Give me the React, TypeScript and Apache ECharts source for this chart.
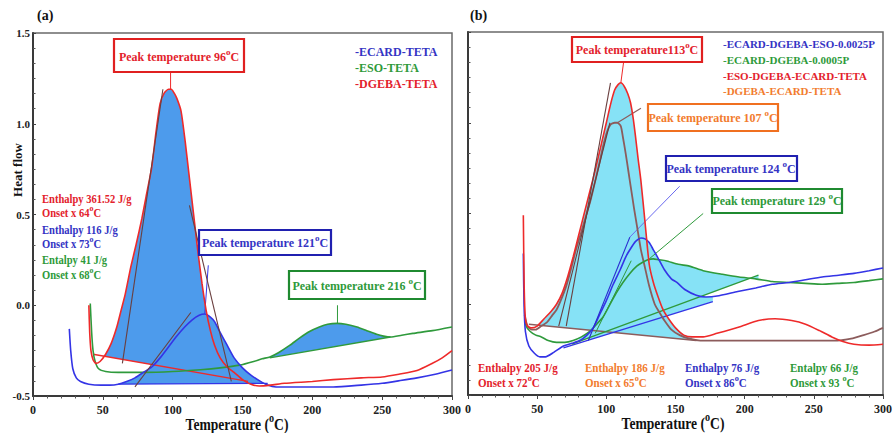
import React, { useEffect, useRef } from "react";
import * as echarts from "echarts";

// ---------- Panel (a) data : [temperature °C, heat flow] ----------
const RED_A: number[][] = [
  [40, 0.0], [40.6, -0.15], [41.5, -0.25], [43, -0.3], [45, -0.32], [48, -0.31], [52, -0.27], [56, -0.21],
  [60, -0.12], [63, -0.03], [66, 0.06], [70, 0.21], [74, 0.34], [78, 0.48], [81, 0.6], [85, 0.76], [88, 0.95],
  [91, 1.11], [94, 1.17], [97, 1.19], [99, 1.19], [101, 1.17], [103, 1.14], [106, 1.07], [109, 0.9], [112, 0.7],
  [115, 0.5], [118, 0.3], [121, 0.12], [124, -0.03], [127, -0.14], [130, -0.22], [134, -0.29], [139, -0.34],
  [144, -0.37], [150, -0.41], [156, -0.435], [162, -0.445], [170, -0.44], [180, -0.43], [200, -0.42],
  [215, -0.41], [235, -0.4], [250, -0.395], [262, -0.38], [275, -0.36], [286, -0.32], [293, -0.29], [300, -0.25],
];
const BLUE_A: number[][] = [
  [26, -0.13], [27, -0.25], [28.5, -0.35], [31, -0.4], [34, -0.42], [40, -0.435], [49, -0.44], [55, -0.44],
  [61, -0.435], [67, -0.42], [73, -0.4], [79, -0.37], [85, -0.34], [91, -0.29], [97, -0.23], [103, -0.17],
  [108.6, -0.12], [114, -0.08], [119, -0.055], [123, -0.048], [127, -0.065], [130, -0.09], [134, -0.15],
  [139, -0.22], [144, -0.29], [150, -0.345], [156, -0.385], [162, -0.415], [168, -0.44], [174, -0.45],
  [190, -0.45], [215, -0.45], [235, -0.44], [250, -0.43], [263, -0.415], [275, -0.4], [288, -0.38], [300, -0.357],
];
const GREEN_A: number[][] = [
  [41, 0.01], [42, -0.15], [43, -0.25], [44.5, -0.31], [47, -0.35], [52, -0.365], [61, -0.37], [80, -0.37],
  [100, -0.365], [120, -0.355], [134, -0.345], [148, -0.33], [158, -0.31], [164, -0.295], [169.6, -0.285],
  [176, -0.26], [184, -0.22], [191, -0.18], [198, -0.145], [205, -0.12], [211, -0.105], [217.6, -0.1],
  [224, -0.105], [232, -0.12], [239, -0.14], [246, -0.16], [251, -0.17], [256, -0.175], [264, -0.165],
  [272, -0.155], [286, -0.14], [300, -0.12],
];
// integration baselines [start, end]
const BASE_RED_A: number[][] = [[43, -0.27], [154, -0.42]];
const BASE_BLUE_A: number[][] = [[61, -0.435], [168, -0.43]];
const BASE_GREEN_A: number[][] = [[169.5, -0.29], [256, -0.175]];
const FILL_RED_A = [50, 152];
const FILL_BLUE_A = [61, 168];
const FILL_GREEN_A = [169.6, 256];
// tangents and peak markers
const TAN_A: number[][][] = [
  [[64, -0.32], [93, 1.19]],
  [[112, 0.55], [142, -0.42]],
  [[73, -0.45], [113, -0.04]],
];
const PEAK_RED_A: number[][] = [[98.5, 1.19], [98.5, 1.285]];
const PEAK_BLUE_A: number[][] = [[123, -0.045], [125.5, 0.22]];
const PEAK_GREEN_A: number[][] = [[218, -0.1], [218, 0.0]];

// ---------- Panel (b) data ----------
const RED_B: number[][] = [
  [40, 0.49], [40.6, 0.1], [41.5, -0.08], [43, -0.12], [46, -0.13], [50, -0.12], [55, -0.08], [60, -0.04],
  [64, 0.0], [68, 0.06], [72, 0.15], [76, 0.26], [80, 0.38], [84, 0.5], [88, 0.62], [92, 0.74], [96, 0.87],
  [100, 1.0], [103, 1.1], [106, 1.18], [108.5, 1.21], [110.5, 1.22], [113, 1.2], [115.5, 1.16], [117.5, 1.11],
  [119.5, 1.02], [121, 0.93], [123, 0.8], [125, 0.68], [128, 0.45], [131, 0.22], [134, 0.12], [137, 0.05],
  [141, -0.03], [145, -0.08], [150, -0.13], [156, -0.17], [162, -0.18], [170, -0.18], [180, -0.16],
  [196, -0.125], [210, -0.09], [222, -0.08], [234, -0.09], [244, -0.11], [254, -0.145], [263, -0.18],
  [271, -0.205], [279, -0.22], [290, -0.225], [300, -0.22],
];
const ORANGE_B: number[][] = [
  [41, -0.06], [43, -0.12], [46, -0.14], [49, -0.14], [53, -0.12], [57, -0.1], [61, -0.06], [64, -0.03],
  [67, 0.02], [71, 0.1], [75, 0.21], [78, 0.3], [82, 0.4], [85, 0.48], [88.5, 0.57], [92, 0.68], [95, 0.78],
  [98, 0.88], [100.5, 0.95], [103, 0.99], [106, 1.0], [108, 1.0], [110.5, 0.98], [112, 0.92], [114, 0.83],
  [116, 0.73], [117.6, 0.65], [120, 0.53], [122.6, 0.41], [125, 0.3], [128, 0.2], [131, 0.1], [135, 0.0],
  [138, -0.04], [142, -0.09], [147, -0.14], [153, -0.17], [160, -0.19], [168, -0.2], [190, -0.2], [220, -0.2],
  [250, -0.2], [267, -0.2], [277, -0.19], [286, -0.17], [294, -0.15], [300, -0.13],
];
const BLUE_B: number[][] = [
  [40, 0.28], [40.5, 0.0], [41.5, -0.15], [44, -0.23], [48, -0.27], [52, -0.29], [56, -0.29], [62, -0.265],
  [69, -0.23], [75, -0.215], [81, -0.2], [86, -0.17], [90.5, -0.13], [95, -0.06], [100, 0.02], [105, 0.11],
  [110, 0.19], [114, 0.26], [117, 0.3], [121, 0.345], [125, 0.365], [128, 0.36], [131, 0.34], [134, 0.3],
  [137, 0.26], [142, 0.19], [147, 0.14], [151, 0.12], [157, 0.08], [165, 0.05], [172, 0.04], [180, 0.045],
  [195, 0.07], [208, 0.09], [220, 0.11], [232, 0.12], [244, 0.135], [256, 0.15], [268, 0.16], [279, 0.17],
  [290, 0.185], [300, 0.2],
];
const GREEN_B: number[][] = [
  [41, -0.06], [42, -0.12], [45, -0.15], [49, -0.17], [53, -0.18], [58, -0.2], [64, -0.21], [70, -0.21],
  [76, -0.2], [82, -0.18], [88, -0.15], [93, -0.11], [97.6, -0.07], [102, -0.01], [107, 0.06], [112, 0.12],
  [117, 0.17], [122, 0.21], [126, 0.23], [130, 0.245], [134, 0.25], [138, 0.245], [143, 0.24], [152, 0.22],
  [160, 0.21], [170, 0.185], [184, 0.165], [196, 0.15], [208, 0.14], [220, 0.125], [232, 0.12], [244, 0.115],
  [256, 0.11], [267, 0.115], [279, 0.12], [290, 0.13], [300, 0.14],
];
const BASE_RED_B: number[][] = [[44, -0.11], [165, -0.2]];
const BASE_BLUE_B: number[][] = [[69, -0.24], [177, 0.015]];
const BASE_GREEN_B: number[][] = [[75, -0.22], [210, 0.16]];
const FILL_RED_B = [52, 162];
const FILL_BLUE_B = [87, 177];
const FILL_GREEN_B = [80, 210];
const TAN_B: number[][][] = [
  [[65.6, -0.12], [102.6, 1.0]],
  [[71, -0.12], [103, 1.22]],
];
const TAN_BLUE_B: number[][] = [[87, -0.2], [117, 0.37]];
const TAN_GREEN_B: number[][] = [[92, -0.16], [118, 0.24]];
const PEAK_RED_B: number[][] = [[110.5, 1.22], [112.5, 1.335]];
const PEAK_ORANGE_B: number[][] = [[108, 1.0], [125, 1.08]];
const PEAK_BLUE_B: number[][] = [[117, 0.37], [153, 0.65]];
const PEAK_GREEN_B: number[][] = [[131, 0.25], [170, 0.5]];

const X_MIN = 0, X_MAX = 300, X_STEP = 50;
const Y_MIN = -0.5, Y_MAX = 1.5, Y_STEP = 0.5;

const FONT = '"Liberation Serif", "Times New Roman", serif';
const C_RED = "#ee2a2a";
const C_BLUE = "#3434e6";
const C_GREEN = "#2f9a3c";
const C_GRAY = "#8c5c5c";
const T_RED = "#e3222c";
const T_BLUE = "#3434c4";
const T_GREEN = "#2e9a3a";
const T_ORANGE = "#f27c2e";
const FILL_A = "#4d9bec";
const FILL_B = "#86e2f6";
const TAN_COLOR = "#6a3f3f";

function interp(curve: number[][], x: number) {
  for (let i = 1; i < curve.length; i++) {
    if (curve[i][0] >= x) {
      const [x0, y0] = curve[i - 1];
      const [x1, y1] = curve[i];
      return y0 + ((y1 - y0) * (x - x0)) / (x1 - x0 || 1);
    }
  }
  return curve[curve.length - 1][1];
}

function fillSeries(curve: number[][], range: number[], base: number[][], color: string, idx: number) {
  const bl = (x: number) =>
    base[0][1] + ((base[1][1] - base[0][1]) * (x - base[0][0])) / (base[1][0] - base[0][0]);
  return {
    type: "custom",
    xAxisIndex: idx,
    yAxisIndex: idx,
    silent: true,
    z: 1,
    data: [[range[0], bl(range[0])]],
    renderItem: (_p: any, api: any) => {
      const inside = curve.filter((p) => p[0] > range[0] && p[0] < range[1]);
      const pts = [
        [range[0], interp(curve, range[0])],
        ...inside,
        [range[1], interp(curve, range[1])],
        [range[1], bl(range[1])],
        [range[0], bl(range[0])],
      ].map((p) => api.coord(p));
      return { type: "polygon", shape: { points: pts }, style: { fill: color } };
    },
  };
}

function line(data: number[][], color: string, idx: number, width = 1.6, smooth: number | boolean = 0.2, z = 3) {
  return {
    type: "line",
    xAxisIndex: idx,
    yAxisIndex: idx,
    data,
    showSymbol: false,
    smooth,
    silent: true,
    z,
    lineStyle: { color, width },
  };
}

function txt(x: number, y: number, text: string, color: string, size = 12, align = "left", extra: any = {}) {
  const rich = text.split("°").join("{s|o}");
  return {
    type: "text",
    x,
    y,
    z: 100,
    ...extra,
    style: {
      text: rich,
      fill: color,
      fontSize: size,
      fontWeight: "bold",
      fontFamily: FONT,
      align,
      textAlign: align,
      verticalAlign: "middle",
      textVerticalAlign: "middle",
      rich: {
        s: {
          fontSize: Math.round(size * 0.72),
          fontWeight: "bold",
          fontFamily: FONT,
          fill: color,
          padding: [0, 0, Math.round(size * 0.9), 0],
        },
      },
    },
  };
}

function box(x: number, y: number, w: number, h: number, color: string) {
  return {
    type: "rect",
    z: 99,
    shape: { x, y, width: w, height: h },
    style: { fill: "#ffffff", stroke: color, lineWidth: 2.2 },
  };
}

function xAxis(idx: number) {
  return {
    type: "value",
    gridIndex: idx,
    min: X_MIN,
    max: X_MAX,
    interval: X_STEP,
    axisLine: { onZero: false, lineStyle: { color: "#3a3a3a", width: 2 } },
    axisTick: { show: true, length: 4, lineStyle: { color: "#444" } },
    minorTick: { show: true, splitNumber: 5, length: 2.5, lineStyle: { color: "#555" } },
    splitLine: { show: false },
    axisLabel: { color: "#222", fontSize: 12, fontWeight: "bold", fontFamily: FONT, margin: 8 },
  };
}

function yAxis(idx: number, showLabels: boolean) {
  return {
    type: "value",
    gridIndex: idx,
    min: Y_MIN,
    max: Y_MAX,
    interval: Y_STEP,
    axisLine: { onZero: false, lineStyle: { color: "#3a3a3a", width: 2 } },
    axisTick: { show: true, inside: true, length: 3, lineStyle: { color: "#444" } },
    minorTick: { show: true, splitNumber: 6, length: 2.5, lineStyle: { color: "#555" } },
    splitLine: { show: false },
    axisLabel: {
      show: showLabels,
      color: "#222",
      fontSize: 11,
      fontWeight: "bold",
      fontFamily: FONT,
      margin: 3,
      formatter: (v: number) => v.toFixed(1),
    },
  };
}

export default function App() {
  const ref = useRef<HTMLDivElement>(null);
  useEffect(() => {
    if (!ref.current) return;
    const chart = echarts.init(ref.current, undefined, { renderer: "svg" });
    const series: any[] = [
      fillSeries(RED_A, FILL_RED_A, BASE_RED_A, FILL_A, 0),
      fillSeries(BLUE_A, FILL_BLUE_A, BASE_BLUE_A, FILL_A, 0),
      fillSeries(GREEN_A, FILL_GREEN_A, BASE_GREEN_A, FILL_A, 0),
      fillSeries(RED_B, FILL_RED_B, BASE_RED_B, FILL_B, 1),
      fillSeries(BLUE_B, FILL_BLUE_B, BASE_BLUE_B, FILL_B, 1),
      fillSeries(GREEN_B, FILL_GREEN_B, BASE_GREEN_B, FILL_B, 1),
      line(BASE_RED_A, C_RED, 0, 1.3, false),
      line(BASE_BLUE_A, C_BLUE, 0, 1.3, false),
      line(BASE_GREEN_A, C_GREEN, 0, 1.3, false),
      ...TAN_A.map((t) => line(t, TAN_COLOR, 0, 1.1, false, 4)),
      line(PEAK_RED_A, C_RED, 0, 1, false),
      line(PEAK_BLUE_A, C_BLUE, 0, 1, false),
      line(PEAK_GREEN_A, C_GREEN, 0, 1, false),
      line(GREEN_A, C_GREEN, 0),
      line(BLUE_A, C_BLUE, 0),
      line(RED_A, C_RED, 0),
      line(BASE_RED_B, C_GRAY, 1, 1.5, false),
      line(BASE_BLUE_B, C_BLUE, 1, 1.3, false),
      line(BASE_GREEN_B, C_GREEN, 1, 1.3, false),
      ...TAN_B.map((t) => line(t, TAN_COLOR, 1, 1.1, false, 4)),
      line(TAN_BLUE_B, "#2a2ad0", 1, 1.1, false, 4),
      line(TAN_GREEN_B, C_GREEN, 1, 1, false, 4),
      line(PEAK_RED_B, C_RED, 1, 1, false),
      line(PEAK_ORANGE_B, C_GRAY, 1, 1.2, false),
      line(PEAK_BLUE_B, "#6a6af0", 1, 1, false),
      line(PEAK_GREEN_B, C_GREEN, 1, 1, false),
      line(ORANGE_B, C_GRAY, 1, 1.8),
      line(GREEN_B, C_GREEN, 1),
      line(BLUE_B, C_BLUE, 1),
      line(RED_B, C_RED, 1),
    ];

    const cA = { scaleX: 0.88 };
    const cB = { scaleX: 0.92 };
    const cT = { scaleX: 0.85 };
    const graphics: any[] = [
      // panel a
      txt(37, 15, "(a)", "#111", 14),
      box(114, 39, 130, 33, "#e02020"),
      txt(179, 57, "Peak temperature 96°C", T_RED, 12, "center"),
      txt(355, 52, "-ECARD-TETA", T_BLUE, 12),
      txt(355, 68, "-ESO-TETA", T_GREEN, 12),
      txt(355, 84, "-DGEBA-TETA", T_RED, 12),
      txt(42, 199, "Enthalpy 361.52 J/g", T_RED, 12, "left", cA),
      txt(42, 213, "Onset x 64°C", T_RED, 12, "left", cA),
      txt(42, 230, "Enthalpy 116 J/g", T_BLUE, 12, "left", cA),
      txt(42, 244, "Onset x 73°C", T_BLUE, 12, "left", cA),
      txt(42, 260, "Entalpy 41 J/g", T_GREEN, 12, "left", cA),
      txt(42, 275, "Onset x 68°C", T_GREEN, 12, "left", cA),
      box(199, 230, 132, 25, "#2020b0"),
      txt(265, 243, "Peak temperature 121°C", T_BLUE, 12, "center"),
      box(289, 271, 136, 28, "#1f8a30"),
      txt(357, 286, "Peak temperature 216 °C", T_GREEN, 12, "center"),
      txt(237, 425, "Temperature (°C)", "#111", 16, "center", cT),
      txt(17, 170, "Heat flow", "#111", 13, "center", { rotation: Math.PI / 2 }),
      // panel b
      txt(470, 15, "(b)", "#111", 14),
      box(572, 37, 130, 25, "#e02020"),
      txt(637, 50, "Peak temperature113°C", T_RED, 12, "center"),
      box(648, 104, 130, 27, "#f07020"),
      txt(713, 118, "Peak temperature 107 °C", T_ORANGE, 12, "center"),
      box(666, 156, 131, 25, "#2020b0"),
      txt(731, 169, "Peak temperature 124 °C", T_BLUE, 12, "center"),
      box(712, 189, 130, 24, "#1f8a30"),
      txt(777, 201, "Peak temperature 129 °C", T_GREEN, 12, "center"),
      txt(723, 44, "-ECARD-DGEBA-ESO-0.0025P", T_BLUE, 11),
      txt(723, 60, "-ECARD-DGEBA-0.0005P", T_GREEN, 11),
      txt(723, 76, "-ESO-DGEBA-ECARD-TETA", T_RED, 11),
      txt(723, 91, "-DGEBA-ECARD-TETA", T_ORANGE, 11),
      txt(478, 368, "Enthalpy 205 J/g", T_RED, 12, "left", cB),
      txt(478, 383, "Onset x 72°C", T_RED, 12, "left", cB),
      txt(585, 368, "Enthalpy 186 J/g", T_ORANGE, 12, "left", cB),
      txt(585, 383, "Onset x 65°C", T_ORANGE, 12, "left", cB),
      txt(685, 368, "Enthalpy 76 J/g", T_BLUE, 12, "left", cB),
      txt(685, 383, "Onset x 86°C", T_BLUE, 12, "left", cB),
      txt(790, 368, "Entalpy 66 J/g", T_GREEN, 12, "left", cB),
      txt(790, 383, "Onset x 93 °C", T_GREEN, 12, "left", cB),
      txt(673, 424, "Temperature (°C)", "#111", 16, "center", cT),
    ];

    chart.setOption({
      animation: false,
      backgroundColor: "#ffffff",
      grid: [
        { left: 33, top: 33, width: 419, height: 363, show: true, borderColor: "#6a6a6a", borderWidth: 1.5, backgroundColor: "transparent" },
        { left: 468, top: 32, width: 421, height: 363, show: true, borderColor: "#6a6a6a", borderWidth: 1.5, backgroundColor: "transparent" },
      ],
      xAxis: [xAxis(0), xAxis(1)],
      yAxis: [yAxis(0, true), yAxis(1, false)],
      series,
      graphic: { elements: graphics },
    });
    return () => chart.dispose();
  }, []);
  return <div ref={ref} style={{ position: "fixed", left: 0, top: 0, width: 895, height: 433 }} />;
}
